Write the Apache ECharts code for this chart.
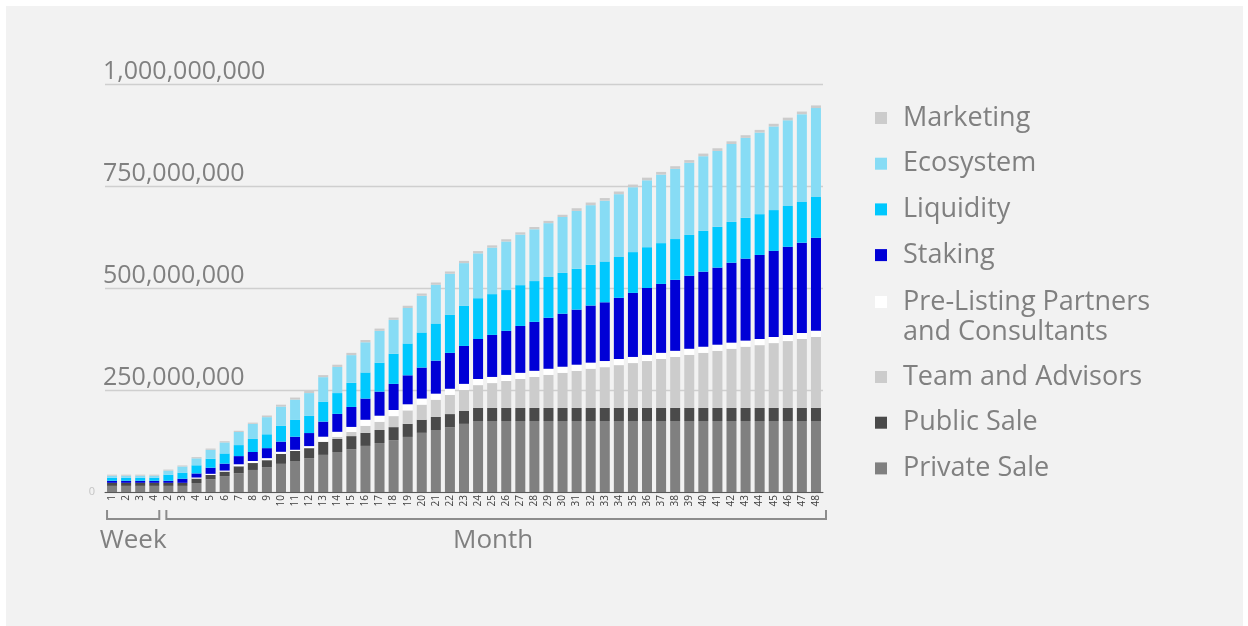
<!DOCTYPE html>
<html><head><meta charset="utf-8">
<script src="https://cdn.jsdelivr.net/npm/echarts@6/dist/echarts.min.js"></script>
<style>
html,body{margin:0;padding:0;background:#ffffff;}
#bg{position:absolute;left:6px;top:6px;width:1237px;height:620px;background:#f2f2f2;}
#chart{position:absolute;left:0;top:0;width:1248px;height:626px;}
</style></head><body><div id="bg"></div><div id="chart"></div>
<script>
// Categories: 4 weeks, then months 2..48
const categories = ['1','2','3','4','2','3','4','5','6','7','8','9','10','11','12','13','14','15','16','17','18','19','20','21','22','23','24','25','26','27','28','29','30','31','32','33','34','35','36','37','38','39','40','41','42','43','44','45','46','47','48'];
const groupLabels = ['Week', 'Month'];
const yTicks = [0, 250, 500, 750, 1000]; // millions of tokens

// Values in millions of tokens
const privateSale = [15,15,15,15,15,15,22,31,39,46,54,61,69,76,83,91,98,105,113,120,127,135,145,152,159,167,
  174,174,174,174,174,174,174,174,174,174,174,174,174,174,174,174,174,174,174,174,174,174,174,174,174];
const publicSale = [7.5,7.5,7.5,7.5,7.5,7.5,11,11,11,17,17,17,24.5,24.5,24.5,
  32,32,32,32,32,32,32,32,32,32,32,32,32,32,32,32,32,32,32,32,32,32,32,32,32,32,32,32,32,32,32,32,32,32,32,32];
const teamAdvisors = [0,0,0,0,0,0,0,0,0,0,0,0,0,0,0,0,
  5,10,17,20,27,33,37,42,47,51,56,61,66,71,76,81,86,91,96,100,105,110,115,120,125,130,135,140,145,150,154,159,164,169,174];
const preListing = [0,0,0,0,0,0,2.5,2.5,2.5,5,5,5,5,3,5,12.5,12.5,12.5,
  15,15,15,15,15,15,15,15,15,15,15,15,15,15,15,15,15,15,15,15,15,15,15,15,15,15,15,15,15,15,15,15,15];
const staking = [5,5,5,5,5,10,10,15,17,20,22,24.5,25,32,32,37,44,49,52,59,64,71,76,81,88,93,
  98,103,108,115,120,125,130,135,140,144,150,157,164,169,174,179,184,189,196,201,206,211,216,221,228];
const liquidity = [7.5,7.5,7.5,7.5,15,15,20,22,25,27,32,34,39,42,42,49,51,59,64,71,74,78,86,91,93,98,
  100,100,100,100,100,100,100,100,100,100,100,100,100,100,100,100,100,100,100,100,100,100,100,100,100];
const ecosystem = [5,5,5,5,10,15,17,22,27,32,37,42,47,49,56,60,64,68,74,78,83,87,90,95,101,105,
  110,114,119,124,127,132,137,142,146,149,154,159,164,168,172,177,183,186,191,196,200,205,210,215,218];
const marketing = [2.5,2.5,2.5,2.5,2.5,2.5,3,3,3,3,3,4,4.5,5,5,5,
  5.5,5.5,5.5,5.5,5.5,5.5,5.5,5.5,5.5,5.5,5.5,5.5,5.5,5.5,5.5,5.5,5.5,
  6.5,6.5,6.5,6.5,6.5,6.5,6.5,6.5,6.5,6.5,6.5,6.5,6.5,6.5,6.5,6.5,6.5,6.5];

const seriesDefs = [
  {name:'Private Sale', data: privateSale, color:'#808080'},
  {name:'Public Sale', data: publicSale, color:'#4a4a4a'},
  {name:'Team and Advisors', data: teamAdvisors, color:'#cccccc'},
  {name:'Pre-Listing Partners\nand Consultants', data: preListing, color:'#ffffff'},
  {name:'Staking', data: staking, color:'#0000d6'},
  {name:'Liquidity', data: liquidity, color:'#00c8fe'},
  {name:'Ecosystem', data: ecosystem, color:'#87dcf5'},
  {name:'Marketing', data: marketing, color:'#cccccc'}
];

const FONT = 'Open Sans';
const GRID = {left:105, right:425, top:84, bottom:134};
const chart = echarts.init(document.getElementById('chart'), null, {renderer:'canvas'});
const fmt = v => (v*1e6).toLocaleString('en-US');
const names = seriesDefs.map(s=>s.name).reverse();

function legendBlock(data, top, itemHeight){
  return {
    orient:'vertical', left:875, top:top, padding:0, itemGap:15.7, itemWidth:12, itemHeight:itemHeight||12,
    icon:'rect', data:data,
    textStyle:{fontFamily:FONT, fontSize:27, color:'#808080', lineHeight:30, padding:[0,0,0,11]}
  };
}
// two-line legend entry: square icon aligned with first text line
const topSquareIcon = 'path://M0,0h12v12h-12zM0,42h0.01v0.01h-0.01z';

chart.setOption({
  animation:false,
  backgroundColor:'transparent',
  textStyle:{fontFamily:FONT},
  grid: GRID,
  legend:[
    legendBlock(names.slice(0,4), 103),
    legendBlock([{name:names[4], icon:topSquareIcon}], 287, 42),
    legendBlock(names.slice(5), 362)
  ],
  xAxis:{
    type:'category', data: categories,
    axisTick:{show:false},
    axisLine:{lineStyle:{color:'#595959', width:1}},
    axisLabel:{interval:0, rotate:90, fontSize:10, margin:3, color:'#404040', fontFamily:FONT}
  },
  yAxis:[{
    type:'value', min:yTicks[0], max:yTicks[yTicks.length-1], interval:yTicks[1]-yTicks[0],
    axisLine:{show:false}, axisTick:{show:false},
    splitLine:{lineStyle:{color:'#cfcfcf', width:1.3}},
    axisLabel:{align:'left', verticalAlign:'bottom', margin:2, fontSize:25, color:'#808080', fontFamily:FONT,
      formatter: v => v===0 ? '' : fmt(v)}
  },{
    type:'value', position:'left', min:yTicks[0], max:yTicks[yTicks.length-1], interval:yTicks[1]-yTicks[0],
    axisLine:{show:false}, axisTick:{show:false}, splitLine:{show:false},
    axisLabel:{margin:10, fontSize:11, color:'#c4c4c4', fontFamily:FONT,
      formatter: v => v===0 ? '0' : ''}
  }],
  series: seriesDefs.map(s=>({
    name:s.name, type:'bar', stack:'total', data:s.data, barWidth:10,
    itemStyle:{color:s.color}, emphasis:{disabled:true}
  }))
});

// brackets and group labels positioned from the axis scale
const px = i => chart.convertToPixel({xAxisIndex:0}, i);
const half = 5;
const wkL = px(0)-half, wkR = px(3)+half;
const moL = px(4)-2, moR = 1248-GRID.right+3;
const yTop = 510, yBot = 519;
const lineStyle = {stroke:'#8c8c8c', lineWidth:2};
function bracket(x1,x2){
  return {type:'polyline', shape:{points:[[x1,yTop],[x1,yBot],[x2,yBot],[x2,yTop]]}, style:lineStyle, silent:true};
}
chart.setOption({graphic:[
  bracket(wkL,wkR), bracket(moL,moR),
  {type:'text', x:(wkL+wkR)/2, y:541, style:{text:groupLabels[0], font:'26px "Open Sans"', fill:'#808080', align:'center', verticalAlign:'middle'}},
  {type:'text', x:(moL+moR)/2-3, y:541, style:{text:groupLabels[1], font:'26px "Open Sans"', fill:'#808080', align:'center', verticalAlign:'middle'}}
]});
</script></body></html>
